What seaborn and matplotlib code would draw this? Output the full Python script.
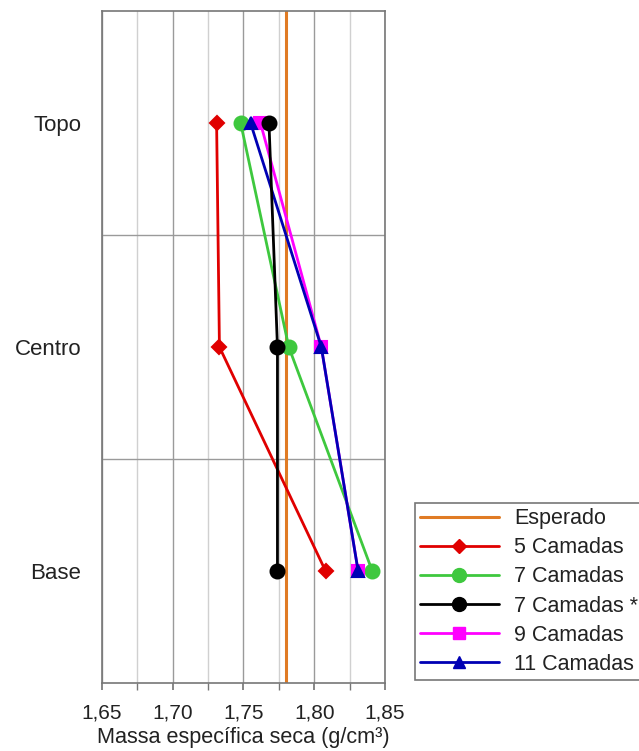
import pandas as pd
import numpy as np
import matplotlib.pyplot as plt
import matplotlib.ticker as mticker
import seaborn as sns
from matplotlib.lines import Line2D

POSICOES = ['Topo', 'Centro', 'Base']
ESPERADO = 1.78

SERIES = ['5 Camadas', '7 Camadas', '7 Camadas *', '9 Camadas', '11 Camadas']
v_5 = [1.731, 1.733, 1.808]
v_7 = [1.748, 1.782, 1.841]
v_7b = [1.768, 1.774, 1.774]
v_9 = [1.762, 1.805, 1.831]
v_11 = [1.755, 1.805, 1.831]

CORES = ['#e00000', '#3ec83e', '#000000', '#ff00ff', '#0000b4']
MARCAS = ['D', 'o', 'o', 's', '^']
TAMANHOS = [7.5, 10, 10, 9, 8]

sns.set_theme(style='white')
plt.rcParams['font.family'] = ['Liberation Sans', 'DejaVu Sans']

rows = []
for serie, vals in zip(SERIES, [v_5, v_7, v_7b, v_9, v_11]):
    for pos, v in zip(POSICOES, vals):
        rows.append({'serie': serie, 'posicao': pos, 'massa': v})
df = pd.DataFrame(rows)

fig = plt.figure(figsize=(6.39, 7.51), dpi=100)
ax = fig.add_axes([0.1596, 0.0905, 0.4429, 0.8949])

ax.axvline(ESPERADO, color='#e07b24', lw=2.2, zorder=2)

zorders = [3, 4, 7, 5, 6]
for i, serie in enumerate(SERIES):
    sub = df[df['serie'] == serie]
    sns.pointplot(data=sub, x='massa', y='posicao', order=POSICOES, orient='h',
                  color=CORES[i], marker=MARCAS[i], markersize=TAMANHOS[i],
                  linewidth=2, errorbar=None, ax=ax, zorder=zorders[i])

ax.set_xlim(1.65, 1.85)
ax.set_ylim(2.5, -0.5)
ax.xaxis.set_major_locator(mticker.MultipleLocator(0.05))
ax.xaxis.set_minor_locator(mticker.MultipleLocator(0.025))
ax.xaxis.set_major_formatter(mticker.FuncFormatter(lambda v, p: f'{v:.2f}'.replace('.', ',')))
ax.grid(which='major', axis='x', color='#9a9a9a', lw=1)
ax.grid(which='minor', axis='x', color='#d0d0d0', lw=1)
for yy in [0.5, 1.5]:
    ax.axhline(yy, color='#9a9a9a', lw=1, zorder=1)
ax.set_axisbelow(True)

ax.tick_params(axis='x', which='both', bottom=True, direction='out', length=5,
               color='#777777', labelsize=15, pad=10)
ax.tick_params(axis='y', left=False, labelsize=16, pad=9)
for s in ax.spines.values():
    s.set_color('#777777')
    s.set_linewidth(1.2)

ax.set_xlabel('Massa específica seca (g/cm³)', fontsize=15.6, labelpad=3, color='#222222')
ax.set_ylabel('')
for t in ax.get_xticklabels() + ax.get_yticklabels():
    t.set_color('#222222')

handles = [Line2D([], [], color='#e07b24', lw=2.2)]
for i in range(len(SERIES)):
    handles.append(Line2D([], [], color=CORES[i], lw=2, marker=MARCAS[i],
                          markersize=TAMANHOS[i]))
leg = fig.legend(handles, ['Esperado'] + SERIES, loc='upper left',
                 bbox_to_anchor=(0.649, 0.330), borderaxespad=0, fontsize=15.5,
                 handlelength=3.7, labelspacing=0.38, borderpad=0.23,
                 handletextpad=0.7, fancybox=False, framealpha=1, edgecolor='#777777')
leg.get_frame().set_linewidth(1.2)
for t in leg.get_texts():
    t.set_color('#222222')

plt.savefig('out.png', dpi=100)
